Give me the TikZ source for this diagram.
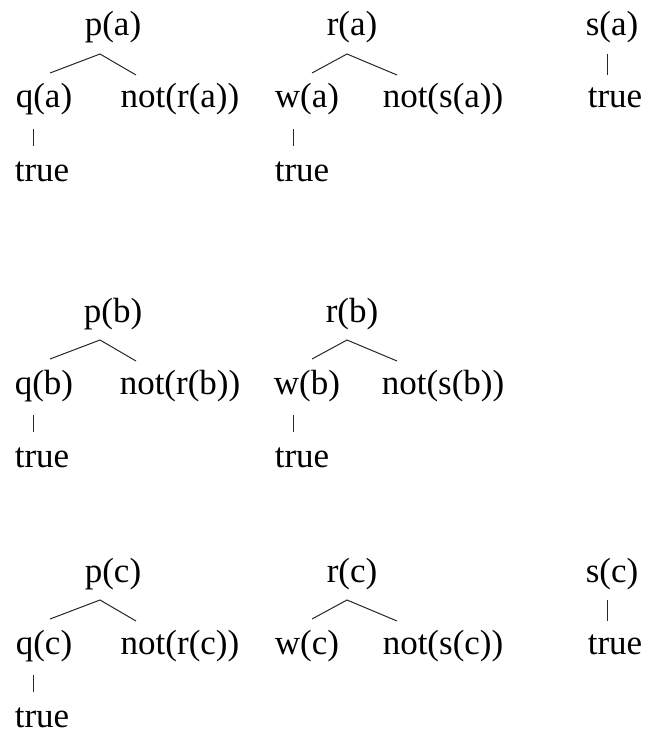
\documentclass[tikz,border=0pt]{standalone}
\usepackage{fontspec}
\setmainfont{Liberation Serif}
\tikzset{
  lbl/.style={inner sep=0pt, anchor=base, font=\fontsize{35}{40}\selectfont},
  edge/.style={line width=1pt, black!85}
}
% left tree: p(x) -> q(x), not(r(x))
\newcommand\ptreeP[1]{%
  \node[lbl] (p#1) at (113,0) {p(#1)};
  \coordinate (p#1ap) at (100,18);
  \coordinate (p#1l) at (50,37);
  \coordinate (p#1r) at (136,39);
  \draw[edge] (p#1l) -- (p#1ap) -- (p#1r);
  \node[lbl] (q#1) at (44,72) {q(#1)};
  \node[lbl] (nr#1) at (180,72) {not(r(#1))};
  \coordinate (q#1t1) at (33,93);
  \coordinate (q#1t2) at (33,110);
  \draw[edge] (q#1t1) -- (q#1t2);
  \node[lbl] (tq#1) at (42,145) {true};
}
\newcommand\ptreeR[1]{%
  \node[lbl] (r#1) at (352,0) {r(#1)};
  \coordinate (r#1ap) at (347,18);
  \coordinate (r#1l) at (312,37);
  \coordinate (r#1r) at (397,39);
  \draw[edge] (r#1l) -- (r#1ap) -- (r#1r);
  \node[lbl] (w#1) at (307,72) {w(#1)};
  \node[lbl] (ns#1) at (443,72) {not(s(#1))};
}
\newcommand\ptreeW[1]{%
  \coordinate (w#1t1) at (293,93);
  \coordinate (w#1t2) at (293,110);
  \draw[edge] (w#1t1) -- (w#1t2);
  \node[lbl] (tw#1) at (302,145) {true};
}
\newcommand\ptreeS[1]{%
  \node[lbl] (s#1) at (612,0) {s(#1)};
  \coordinate (s#1t1) at (607,18);
  \coordinate (s#1t2) at (607,39);
  \draw[edge] (s#1t1) -- (s#1t2);
  \node[lbl] (ts#1) at (615,72) {true};
}
\begin{document}
\begin{tikzpicture}[x=1pt,y=-1pt]
\useasboundingbox (0,0) rectangle (646,733);
\begin{scope}[yshift=-36pt]
  \ptreeP{a}
  \ptreeR{a}
  \ptreeW{a}
  \ptreeS{a}
\end{scope}
\begin{scope}[yshift=-322pt]
  \ptreeP{b}
  \ptreeR{b}
  \ptreeW{b}
\end{scope}
\begin{scope}[yshift=-582pt]
  \ptreeP{c}
  \ptreeR{c}
  \ptreeS{c}
\end{scope}
\end{tikzpicture}
\end{document}
